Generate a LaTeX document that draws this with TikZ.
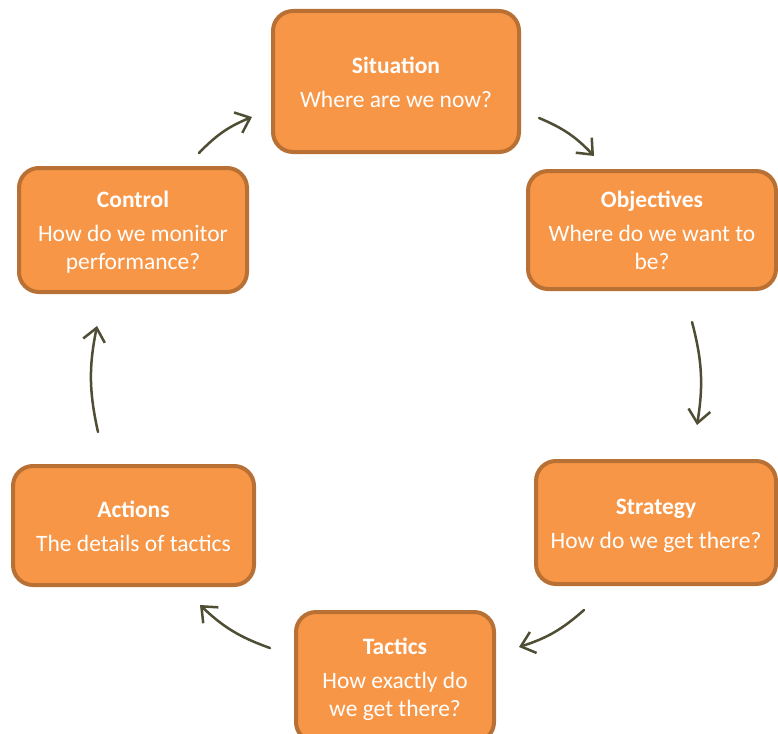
\documentclass[tikz,border=0pt]{standalone}
\usepackage{fontspec}
\setmainfont{Carlito}
\usetikzlibrary{arrows.meta}
\definecolor{boxfill}{RGB}{247,150,70}
\definecolor{boxedge}{RGB}{184,112,52}
\definecolor{arrowcol}{RGB}{79,77,51}
\tikzset{
  stage/.style={draw=boxedge, line width=4pt, fill=boxfill, rounded corners=20pt,
    text=white, align=center, inner sep=0pt,
    font=\fontsize{23.5}{28}\selectfont},
  cycle/.style={draw=arrowcol, line width=2.5pt, line cap=round,
    -{Straight Barb[length=13pt,width=22pt,line width=2.5pt]}, bend left=12}
}
% bold heading over the question; the rule and strut keep the block evenly placed
\newcommand{\stagetext}[2]{\rule{0pt}{26pt}\textbf{#1}\\[6pt]#2\strut}
\begin{document}
\begin{tikzpicture}[x=1pt,y=-1pt]
  \clip (0,0) rectangle (778,733);
  \fill[white] (0,0) rectangle (778,733);

  % the six stages
  \node[stage, minimum width=246pt, minimum height=141pt] (sit) at (396,81.5)
    {\stagetext{Situation}{Where are we now?}};
  \node[stage, minimum width=248pt, minimum height=118pt] (obj) at (652,230)
    {\stagetext{Objectives}{Where do we want to\\be?}};
  \node[stage, minimum width=240pt, minimum height=123pt] (str) at (656,522.5)
    {\stagetext{Strategy}{How do we get there?}};
  \node[stage, minimum width=198pt, minimum height=130pt] (tac) at (395,677)
    {\stagetext{Tactics}{How exactly do\\we get there?}};
  \node[stage, minimum width=241pt, minimum height=119pt] (act) at (133.5,525.5)
    {\stagetext{Actions}{The details of tactics}};
  \node[stage, minimum width=228pt, minimum height=124pt] (ctl) at (133,230)
    {\stagetext{Control}{How do we monitor\\performance?}};

  % arrow end points between the stages
  \coordinate (c1) at (199,153);  \coordinate (c2) at (252,117);
  \coordinate (c3) at (539,118);  \coordinate (c4) at (594,156);
  \coordinate (c5) at (692,322);  \coordinate (c6) at (697,425);
  \coordinate (c7) at (584,610);  \coordinate (c8) at (519,647);
  \coordinate (c9) at (270,648);  \coordinate (c10) at (200,605);
  \coordinate (c11) at (98,432);  \coordinate (c12) at (97,326);

  % clockwise cycle
  \draw[cycle] (c1) to (c2);
  \draw[cycle] (c3) to (c4);
  \draw[cycle] (c5) to (c6);
  \draw[cycle] (c7) to (c8);
  \draw[cycle] (c9) to (c10);
  \draw[cycle] (c11) to (c12);
\end{tikzpicture}
\end{document}
